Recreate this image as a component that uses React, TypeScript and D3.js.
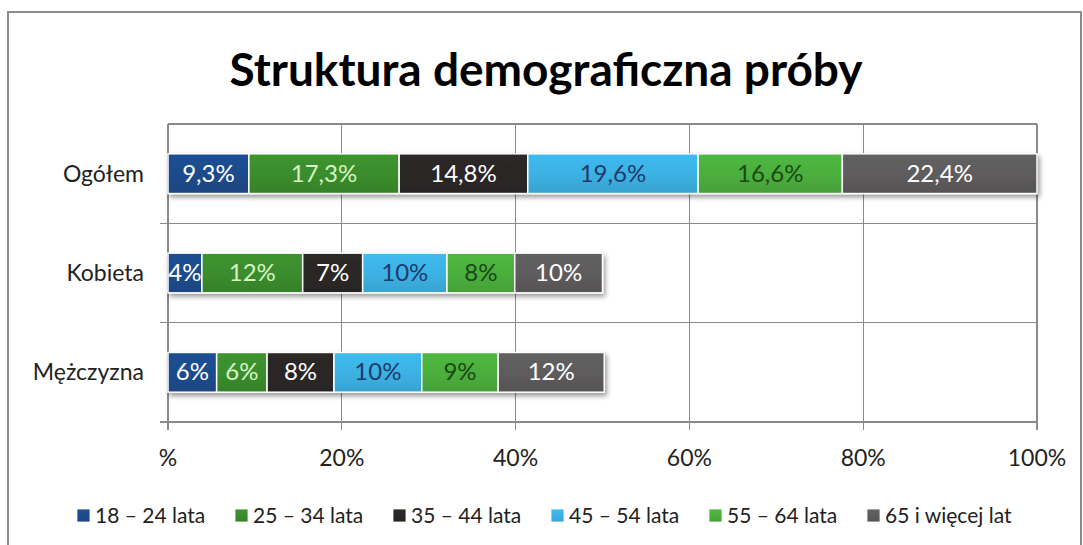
import React, { useRef, useEffect } from 'react';
import * as d3 from 'd3';

const categories = ['Ogółem', 'Kobieta', 'Mężczyzna'];
const seriesNames = ['18 – 24 lata', '25 – 34 lata', '35 – 44 lata', '45 – 54 lata', '55 – 64 lata', '65 i więcej lat'];
const ogolem = [9.3, 17.3, 14.8, 19.6, 16.6, 22.4];
const kobieta = [3.9, 11.6, 6.9, 9.7, 7.8, 10.1];
const mezczyzna = [5.6, 5.8, 7.7, 10.1, 8.8, 12.2];
const labelDecimals = [1, 0, 0];
const tickValues = [0, 20, 40, 60, 80, 100];
const tickLabels = ['%', '20%', '40%', '60%', '80%', '100%'];

const barColors = ['#1d4b8c', '#3a8c2d', '#2b2727', '#3cb1e3', '#4bae3d', '#5e5b5d'];
const labelColors = ['#ffffff', '#d6f5c2', '#ffffff', '#1d3b6c', '#1c4814', '#ffffff'];

const App = () => {
  const chartRef = useRef<SVGSVGElement | null>(null);

  useEffect(() => {
    const width = 1083;
    const height = 545;
    const font = 'Lato, "Open Sans", sans-serif';
    const plot = { left: 168, right: 1037, top: 124, bottom: 422 };

    const svg = d3.select(chartRef.current);
    svg.selectAll('*').remove();
    svg.attr('width', width).attr('height', height);

    const defs = svg.append('defs');
    const shadow = defs.append('filter').attr('id', 'shadow')
      .attr('x', '-10%').attr('y', '-30%').attr('width', '130%').attr('height', '180%');
    shadow.append('feDropShadow')
      .attr('dx', 2).attr('dy', 3).attr('stdDeviation', 2.5)
      .attr('flood-color', '#000').attr('flood-opacity', 0.4);

    barColors.forEach((c, i) => {
      const g = defs.append('linearGradient').attr('id', `grad${i}`)
        .attr('x1', 0).attr('y1', 0).attr('x2', 0).attr('y2', 1);
      g.append('stop').attr('offset', '0%').attr('stop-color', d3.color(c)!.brighter(0.15).formatHex());
      g.append('stop').attr('offset', '55%').attr('stop-color', c);
      g.append('stop').attr('offset', '100%').attr('stop-color', d3.color(c)!.darker(0.25).formatHex());
    });

    // chart area frame
    svg.append('rect')
      .attr('x', 8).attr('y', 12).attr('width', 1073).attr('height', 560)
      .attr('fill', '#fff').attr('stroke', '#8c8c8c').attr('stroke-width', 2);

    svg.append('text')
      .attr('x', 546).attr('y', 86)
      .attr('text-anchor', 'middle')
      .style('font-family', font).style('font-weight', 700).style('font-size', '46px')
      .attr('fill', '#000')
      .text('Struktura demograficzna próby');

    const rows = categories.map((c, ci) => {
      const vals = [ogolem, kobieta, mezczyzna][ci];
      const row: any = { category: c };
      seriesNames.forEach((s, si) => { row[s] = vals[si]; });
      return row;
    });
    const stacked = d3.stack().keys(seriesNames)(rows);

    const x = d3.scaleLinear().domain([0, 100]).range([plot.left, plot.right]);
    const yBand = d3.scaleBand().domain(categories).range([plot.top, plot.bottom]).paddingInner(0.6).paddingOuter(0.3);
    const yCat = d3.scaleBand().domain(categories).range([plot.top, plot.bottom]);

    const grid = svg.append('g').attr('stroke', '#8a8a8a').attr('stroke-width', 1.2).attr('shape-rendering', 'crispEdges');
    grid.selectAll('line.v').data(tickValues).join('line')
      .attr('class', 'v')
      .attr('x1', d => x(d)).attr('x2', d => x(d))
      .attr('y1', plot.top).attr('y2', plot.bottom + 8);
    const boundaries = [plot.top, ...categories.map(c => yCat(c)! + yCat.bandwidth())];
    grid.selectAll('line.h').data(boundaries).join('line')
      .attr('class', 'h')
      .attr('x1', (d, i) => (i === 0 ? plot.left : plot.left - 8)).attr('x2', plot.right)
      .attr('y1', d => d).attr('y2', d => d);

    const fmt = d3.formatLocale({ decimal: ',', thousands: ' ', grouping: [3], currency: ['', ' zł'] });

    const layers = svg.append('g').attr('filter', 'url(#shadow)');
    stacked.forEach((layer, si) => {
      const g = layers.append('g');
      g.selectAll('rect').data(layer).join('rect')
        .attr('x', d => x(d[0]))
        .attr('y', d => yBand((d.data as any).category)!)
        .attr('width', d => x(d[1]) - x(d[0]))
        .attr('height', yBand.bandwidth())
        .attr('fill', `url(#grad${si})`)
        .attr('stroke', '#fff').attr('stroke-width', 1.5);
    });

    stacked.forEach((layer, si) => {
      svg.append('g').selectAll('text').data(layer).join('text')
        .attr('x', d => (x(d[0]) + x(d[1])) / 2)
        .attr('y', d => yBand((d.data as any).category)! + yBand.bandwidth() / 2 + 8)
        .attr('text-anchor', 'middle')
        .style('font-family', font).style('font-size', '24px')
        .attr('fill', labelColors[si])
        .text(d => {
          const ci = categories.indexOf((d.data as any).category);
          return fmt.format(`.${labelDecimals[ci]}f`)(d[1] - d[0]) + '%';
        });
    });

    svg.append('g').selectAll('text').data(categories).join('text')
      .attr('x', plot.left - 24)
      .attr('y', d => yCat(d)! + yCat.bandwidth() / 2 + 8)
      .attr('text-anchor', 'end')
      .style('font-family', font).style('font-size', '23px')
      .attr('fill', '#222')
      .text(d => d);

    svg.append('g').selectAll('text').data(tickValues).join('text')
      .attr('x', d => x(d))
      .attr('y', 466)
      .attr('text-anchor', 'middle')
      .style('font-family', font).style('font-size', '23px')
      .attr('fill', '#222')
      .text((d, i) => tickLabels[i]);

    const legend = d3.scaleBand().domain(seriesNames).range([77, 77 + 6 * 158]);
    const items = svg.append('g').selectAll('g').data(seriesNames).join('g')
      .attr('transform', d => `translate(${legend(d)},0)`);
    items.append('rect')
      .attr('x', 0).attr('y', 509).attr('width', 13).attr('height', 13)
      .attr('fill', (d, i) => `url(#grad${i})`)
      .attr('stroke', '#fff').attr('stroke-width', 0.8);
    items.append('text')
      .attr('x', 18).attr('y', 523)
      .style('font-family', font).style('font-size', '21px')
      .attr('fill', '#222')
      .text(d => d);
  }, []);

  return (
    <svg ref={chartRef} style={{ position: 'absolute', left: 0, top: 0 }}></svg>
  );
};

export default App;
